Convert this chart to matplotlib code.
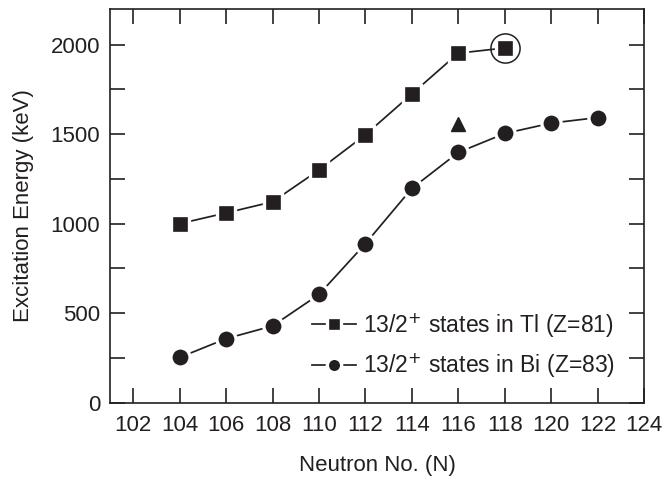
import matplotlib
matplotlib.use("Agg")
import matplotlib.pyplot as plt
from matplotlib.ticker import MultipleLocator, FixedLocator

plt.rcParams['font.family'] = ['Liberation Sans', 'DejaVu Sans']

# Data
n_tl = [104, 106, 108, 110, 112, 114, 116, 118]
e_tl = [1000, 1060, 1122, 1300, 1497, 1725, 1953, 1982]
n_bi = [104, 106, 108, 110, 112, 114, 116, 118, 120, 122]
e_bi = [252, 357, 428, 604, 888, 1197, 1398, 1504, 1562, 1593]
n_tri = [116]
e_tri = [1558]
n_circ = [118]
e_circ = [1982]
label_tl = r'13/2$^{+}$ states in Tl (Z=81)'
label_bi = r'13/2$^{+}$ states in Bi (Z=83)'
xticks = [102, 104, 106, 108, 110, 112, 114, 116, 118, 120, 122, 124]

col = '#231f20'
fig = plt.figure(figsize=(6.67, 4.87), dpi=100)
ax = fig.add_axes([0.165, 0.1735, 0.8005, 0.808])

ax.plot(n_tl, e_tl, color=col, lw=1.25, marker='s', ms=12.8, mfc=col,
        mec='white', mew=2.4, label=label_tl, zorder=3)
ax.plot(n_bi, e_bi, color=col, lw=1.25, marker='o', ms=13.8, mfc=col,
        mec='white', mew=2.4, label=label_bi, zorder=3)
ax.plot(n_tri, e_tri, ls='none', marker='^', ms=9.5, color=col, zorder=3)
ax.plot(n_circ, e_circ, ls='none', marker='o', ms=21, mfc='none',
        mec=col, mew=1.1, zorder=4)

ax.set_xlim(101, 124)
ax.set_ylim(0, 2200)
ax.xaxis.set_major_locator(FixedLocator(xticks))
ax.yaxis.set_major_locator(MultipleLocator(500))
ax.yaxis.set_minor_locator(MultipleLocator(250))
ax.tick_params(axis='both', which='both', direction='in', length=11,
               width=1.2, color=col, top=True, right=True,
               labelsize=16, labelcolor=col)
ax.tick_params(axis='x', which='major', pad=9)
ax.tick_params(axis='y', which='major', pad=7)
for s in ax.spines.values():
    s.set_linewidth(1.2)
    s.set_color(col)

ax.set_xlabel('Neutron No. (N)', fontsize=16, color=col, labelpad=14)
ax.set_ylabel('Excitation Energy (keV)', fontsize=16, color=col, labelpad=12)

leg = ax.legend(loc='lower right', frameon=False, fontsize=16.5,
                handlelength=1.9, handletextpad=0.3, markerscale=0.75,
                labelspacing=0.5, borderaxespad=0.0,
                bbox_to_anchor=(0.962, 0.035))
for t in leg.get_texts():
    t.set_color(col)

fig.savefig('out.png', dpi=100)
